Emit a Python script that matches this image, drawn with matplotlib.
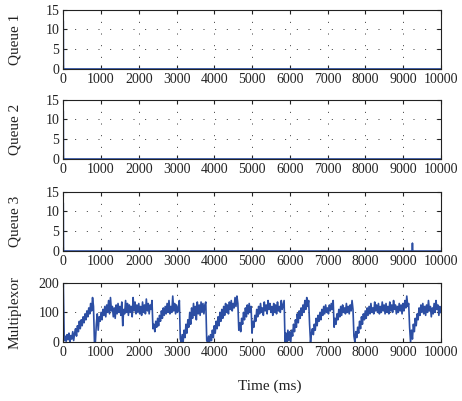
import numpy as np
import matplotlib.pyplot as plt

plt.rcParams['font.family'] = ['Liberation Serif', 'DejaVu Serif']

# queue lengths (packets) - just the initial burst, then empty
q1_t = [0, 5, 10000]
q1_v = [12, 0, 0]
q2_t = [0, 5, 10000]
q2_v = [12, 0, 0]
q3_t = [0, 5, 9240, 9250, 9260, 10000]
q3_v = [12, 0, 0, 2, 0, 0]

mux_t = np.arange(0, 10001, 25)
mux_v = [
    200, 5, 20, 2, 25, 8, 30, 0, 22, 10, 35, 5, 30,
    45, 20, 55, 35, 70, 45, 75, 55, 85, 65, 95, 75, 105, 85, 115, 95, 130, 105, 150,
    120, 0, 0, 60, 95, 40, 85, 70,
    # 1000
    100, 75, 110, 90, 120, 85, 125, 100, 140, 95, 150, 105, 120, 85, 115, 80, 125, 95, 130, 100,
    120, 90, 135, 55, 110, 95, 140, 100, 130, 90, 125, 100, 120, 85, 150, 105, 135, 95, 125, 100,
    # 2000
    130, 95, 120, 90, 135, 100, 125, 95, 145, 105, 130, 95, 125, 110, 140,
    45, 60, 35, 70, 50, 80, 55, 90, 70, 105, 80, 115, 90, 120, 95, 130, 100, 140, 95, 120,
    100, 155, 105, 130, 95,
    # 3000
    125, 100, 115, 140, 10, 0, 25, 0, 40, 15, 60, 30, 75, 50, 100, 60, 115, 80, 130, 90,
    120, 75, 135, 95, 125, 90, 135, 100, 130, 95, 125, 135, 5, 0, 20, 0, 25, 5, 40, 15,
    # 4000
    55, 30, 70, 45, 85, 55, 100, 70, 110, 80, 120, 90, 130, 100, 125, 95, 135, 110, 140, 105,
    130, 115, 150, 120, 155, 130, 40, 65, 35, 80, 60, 100, 75, 115, 85, 125, 95, 130, 100, 120,
    # 5000
    30, 70, 50, 90, 70, 110, 85, 120, 95, 130, 100, 115, 90, 135, 105, 125, 95, 140, 110, 130,
    100, 120, 90, 130, 100, 125, 95, 135, 105, 120, 100, 140, 110, 125, 140, 0, 30, 0, 40, 5,
    # 6000
    35, 0, 40, 20, 60, 35, 75, 50, 95, 65, 105, 80, 115, 90, 125, 100, 140, 110, 150, 120,
    140, 60, 0, 30, 45, 25, 60, 40, 80, 55, 90, 70, 100, 75, 110, 90, 120, 95, 125, 100,
    # 7000
    115, 95, 125, 105, 130, 110, 140, 50, 80, 60, 95, 75, 110, 85, 120, 90, 125, 100, 115, 95,
    130, 100, 120, 95, 125, 105, 140, 110, 20, 0, 35, 15, 50, 30, 70, 45, 85, 60, 95, 75,
    # 8000
    105, 80, 115, 90, 120, 95, 130, 100, 115, 95, 135, 105, 125, 100, 130, 95, 120, 100, 135, 105,
    125, 95, 130, 100, 120, 95, 135, 105, 125, 100, 140, 110, 125, 95, 120, 100, 130, 105, 125, 95,
    # 9000
    130, 105, 140, 115, 155, 120, 130, 50, 0, 40, 10, 60, 35, 80, 55, 95, 75, 115, 90, 125,
    100, 130, 95, 120, 90, 125, 100, 140, 105, 120, 85, 115, 95, 130, 100, 140, 110, 125, 90, 120,
    100,
]

xticks = np.arange(0, 10001, 1000)
blue = '#2c4ea3'

fig = plt.figure(figsize=(4.62, 4.01), dpi=100)
L, W, H = 0.137, 0.817, 0.148
bottoms = [0.828, 0.6035, 0.374, 0.147]

series = [(q1_t, q1_v, 'Queue 1'), (q2_t, q2_v, 'Queue 2'),
          (q3_t, q3_v, 'Queue 3'), (mux_t, mux_v, 'Multiplexor')]

for b, (t, v, name) in zip(bottoms, series):
    ax = fig.add_axes([L, b, W, H])
    ax.plot(t, v, color=blue, lw=1.2)
    ax.set_xlim(0, 10000)
    if name == 'Multiplexor':
        ax.set_ylim(0, 200)
        ax.set_yticks([0, 100, 200])
    else:
        ax.set_ylim(0, 15)
        ax.set_yticks([0, 5, 10, 15])
    ax.set_xticks(xticks)
    ax.grid(True, color='#333333', linestyle=(0, (1, 11)), lw=0.7)
    ax.tick_params(direction='in', length=3, width=0.8, top=True, right=True,
                   labelsize=10, pad=3, colors='#222222')
    for s in ax.spines.values():
        s.set_linewidth(0.8)
        s.set_color('#222222')
    ax.set_ylabel(name, fontsize=11, color='#222222', labelpad=4)
    ax.yaxis.set_label_coords(-0.11, 0.5)

fig.text(270 / 462, 1 - 386 / 401, 'Time (ms)', ha='center', va='center',
         fontsize=11, color='#222222')

fig.savefig('out.png', dpi=100)
